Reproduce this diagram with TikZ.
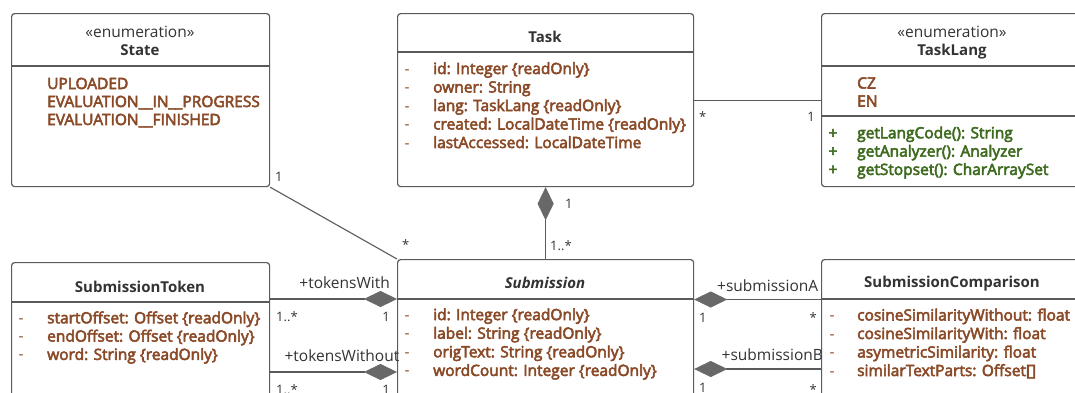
\documentclass[tikz,border=0pt]{standalone}
\usepackage{fontspec}
\setmainfont{Open Sans}
\newfontfamily\semifont{Open Sans}[FakeBold=3.5]
\usetikzlibrary{arrows.meta}

\definecolor{edgec}{HTML}{5A5A5A}
\definecolor{attrc}{HTML}{8A4A27}
\definecolor{methc}{HTML}{3E6B1F}
\definecolor{namec}{HTML}{333333}
\definecolor{diamc}{HTML}{686868}

\tikzset{
  cls/.style={draw=edgec, line width=1.2pt, rounded corners=3pt, inner sep=0pt, anchor=north west},
  sep/.style={draw=edgec, line width=1.2pt},
  assoc/.style={draw=edgec, line width=1.1pt},
  whole/.tip={Diamond[length=33pt, width=16pt, color=diamc, line width=0.4pt]},
  attr/.style={text=attrc, font=\semifont\fontsize{15.5}{18}\selectfont, anchor=base west, inner sep=0pt},
  meth/.style={text=methc, font=\semifont\fontsize{15.5}{18}\selectfont, anchor=base west, inner sep=0pt},
  visA/.style={text=attrc, font=\fontsize{15.5}{18}\selectfont, anchor=base, inner sep=0pt},
  visM/.style={text=methc, font=\semifont\fontsize{15.5}{18}\selectfont, anchor=base, inner sep=0pt},
  title/.style={text=namec, font=\bfseries\fontsize{15}{18}\selectfont, anchor=base, inner sep=0pt},
  stereo/.style={text=namec, font=\fontsize{15.5}{18}\selectfont, anchor=base, inner sep=0pt},
  mult/.style={text=namec, font=\fontsize{13}{15}\selectfont, inner sep=0pt},
  role/.style={text=namec, font=\fontsize{15.5}{18}\selectfont, inner sep=0pt},
}

\begin{document}
\begin{tikzpicture}[x=1pt, y=-1pt]
\useasboundingbox (0,0) rectangle (1075,392);
\clip (0,0) rectangle (1075,392);

% ---- class boxes ----
\node[cls, minimum width=258pt, minimum height=173pt] (state) at (11,13) {};
\node[cls, minimum width=296pt, minimum height=173pt] (task)  at (397,13) {};
\node[cls, minimum width=262pt, minimum height=173pt] (lang)  at (821,13) {};
\node[cls, minimum width=258pt, minimum height=180pt] (token) at (11,262) {};
\node[cls, minimum width=296pt, minimum height=180pt] (sub)   at (397,259) {};
\node[cls, minimum width=262pt, minimum height=180pt] (cmp)   at (821,259) {};

% compartment separators
\draw[sep] ([yshift=-53pt]state.north west) -- ([yshift=-53pt]state.north east);
\draw[sep] ([yshift=-39pt]task.north west)  -- ([yshift=-39pt]task.north east);
\draw[sep] ([yshift=-53pt]lang.north west)  -- ([yshift=-53pt]lang.north east);
\draw[sep] ([yshift=-103pt]lang.north west) -- ([yshift=-103pt]lang.north east);
\draw[sep] ([yshift=-40pt]token.north west) -- ([yshift=-40pt]token.north east);
\draw[sep] ([yshift=-40pt]sub.north west)   -- ([yshift=-40pt]sub.north east);
\draw[sep] ([yshift=-40pt]cmp.north west)   -- ([yshift=-40pt]cmp.north east);

% ---- State ----
\node[stereo] (stateSt) at (140,37) {«enumeration»};
\node[title]  (stateT)  at (140,55) {State};
\foreach \t [count=\i] in {UPLOADED, EVALUATION\_\_IN\_\_PROGRESS, EVALUATION\_\_FINISHED}
  \node[attr] (stateL\i) at (47,71+18*\i) {\t};

% ---- Task ----
\node[title] (taskT) at (545,42) {Task};
\foreach \t [count=\i] in {{id: Integer \{readOnly\}}, {owner: String}, {lang: TaskLang \{readOnly\}},
    {created: LocalDateTime \{readOnly\}}, {lastAccessed: LocalDateTime}} {
  \node[visA] (taskV\i) at (407,55.5+18.5*\i) {-};
  \node[attr] (taskA\i) at (433,55.5+18.5*\i) {\t};
}

% ---- TaskLang ----
\node[stereo] (langSt) at (952,37) {«enumeration»};
\node[title]  (langT)  at (952,55) {TaskLang};
\node[attr] (langL1) at (857,88.5) {CZ};
\node[attr] (langL2) at (857,106.5) {EN};
\foreach \t [count=\i] in {{getLangCode(): String}, {getAnalyzer(): Analyzer}, {getStopset(): CharArraySet}} {
  \node[visM] (langV\i) at (833,120+18.3*\i) {+};
  \node[meth] (langM\i) at (857,120+18.3*\i) {\t};
}

% ---- SubmissionToken ----
\node[title] (tokenT) at (140,292) {SubmissionToken};
\foreach \t [count=\i] in {{startOffset: Offset \{readOnly\}}, {endOffset: Offset \{readOnly\}}, {word: String \{readOnly\}}} {
  \node[visA] (tokenV\i) at (21,305+18.3*\i) {-};
  \node[attr] (tokenA\i) at (47,305+18.3*\i) {\t};
}

% ---- Submission ----
\node[title, font=\bfseries\itshape\fontsize{15}{18}\selectfont] (subT) at (545,288.5) {Submission};
\foreach \t [count=\i] in {{id: Integer \{readOnly\}}, {label: String \{readOnly\}}, {origText: String \{readOnly\}},
    {wordCount: Integer \{readOnly\}}} {
  \node[visA] (subV\i) at (407,301.5+18.6*\i) {-};
  \node[attr] (subA\i) at (433,301.5+18.6*\i) {\t};
}

% ---- SubmissionComparison ----
\node[title] (cmpT) at (952,287.5) {SubmissionComparison};
\foreach \t [count=\i] in {{cosineSimilarityWithout: float}, {cosineSimilarityWith: float},
    {asymetricSimilarity: float}, {similarTextParts: Offset[]}} {
  \node[visA] (cmpV\i) at (832,302+18.5*\i) {-};
  \node[attr] (cmpA\i) at (857,302+18.5*\i) {\t};
}

% ---- associations ----
\draw[assoc] (state.south east) -- (sub.north west);
\node[mult, anchor=base west] (mStateA) at (275,181) {1};
\node[mult, anchor=base west] (mStateB) at (402,249) {*};

\draw[assoc] (task.east) -- (lang.west);
\node[mult, anchor=base west] (mTaskA) at (699,121) {*};
\node[mult, anchor=base east] (mTaskB) at (815,121) {1};

\draw[assoc, {whole}-] (task.south) -- (sub.north);
\node[mult, anchor=base west] (mOwnA) at (565,208) {1};
\node[mult, anchor=base west] (mOwnB) at (550,250) {1..*};

% token compositions
\draw[assoc, -{whole}] (token.east |- 0,299) -- (sub.west |- 0,299);
\node[role, anchor=base east] (rTw) at (390,288.5) {+tokensWith};
\node[mult, anchor=base west] (mTwA) at (276,321) {1..*};
\node[mult, anchor=base east] (mTwB) at (390,321) {1};

\draw[assoc, -{whole}] (token.east |- 0,372) -- (sub.west |- 0,372);
\node[role, anchor=base east] (rTwo) at (399.5,361) {+tokensWithout};
\node[mult, anchor=base west] (mTwoA) at (276,394) {1..*};
\node[mult, anchor=base east] (mTwoB) at (390,394) {1};

% comparison compositions
\draw[assoc, {whole}-] (sub.east |- 0,299.5) -- (cmp.west |- 0,299.5);
\node[role, anchor=base west] (rSa) at (717,291) {+submissionA};
\node[mult, anchor=base west] (mSaA) at (699,322) {1};
\node[mult, anchor=base east] (mSaB) at (817,322) {*};

\draw[assoc, {whole}-] (sub.east |- 0,369) -- (cmp.west |- 0,369);
\node[role, anchor=base west] (rSb) at (721.5,360) {+submissionB};
\node[mult, anchor=base west] (mSbA) at (699,392) {1};
\node[mult, anchor=base east] (mSbB) at (817,394) {*};
\end{tikzpicture}
\end{document}
